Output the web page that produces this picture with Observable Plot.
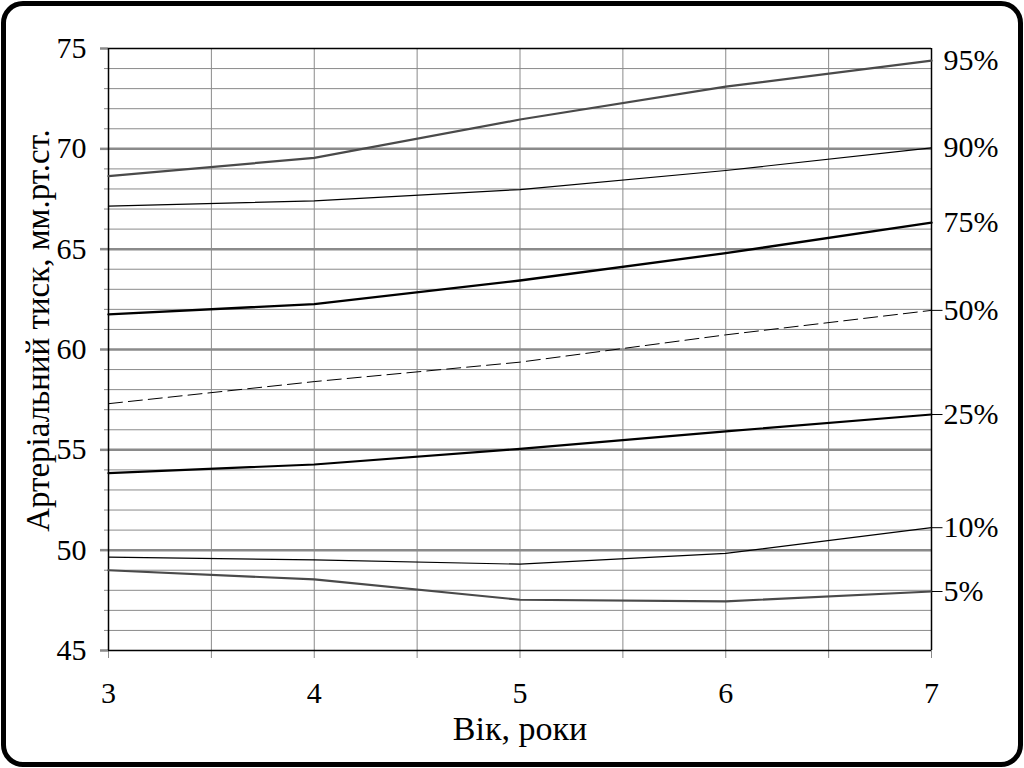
<!DOCTYPE html>
<html>
<head>
<meta charset="utf-8">
<script src="https://cdn.jsdelivr.net/npm/d3@7"></script>
<script src="https://cdn.jsdelivr.net/npm/@observablehq/plot@0.6"></script>
<style>
  html, body { margin: 0; padding: 0; background: #fff; }
  #wrap { position: relative; width: 1024px; height: 768px; overflow: hidden; }
  #wrap svg { position: absolute; left: 0; top: 0; }
  #border { position: absolute; left: 1px; top: 1px; width: 1022px; height: 766px; box-sizing: border-box; border: 5px solid #000; border-radius: 22px; pointer-events: none; }
</style>
</head>
<body>
<div id="wrap"><div id="border"></div></div>
<script>
// Data
const ages = [3, 4, 5, 6, 7];
const p95 = [68.64, 69.55, 71.46, 73.10, 74.40];
const p90 = [67.14, 67.41, 67.97, 68.92, 70.05];
const p75 = [61.75, 62.26, 63.44, 64.80, 66.32];
const p50 = [57.30, 58.40, 59.37, 60.73, 61.95];
const p25 = [53.84, 54.27, 55.05, 55.92, 56.76];
const p10 = [49.65, 49.52, 49.30, 49.84, 51.12];
const p5  = [49.00, 48.54, 47.53, 47.45, 47.94];
const percentileLabels = ["95%", "90%", "75%", "50%", "25%", "10%", "5%"];
const xTicks = [3, 4, 5, 6, 7];
const yTicks = [45, 50, 55, 60, 65, 70, 75];
const xLabel = "Вік, роки";
const yLabel = "Артеріальний тиск, мм.рт.ст.";

const seriesValues = [p95, p90, p75, p50, p25, p10, p5];
const styles = {
  "95%": {stroke: "#4a4a4a", strokeWidth: 2.2},
  "90%": {stroke: "#000", strokeWidth: 1.2},
  "75%": {stroke: "#000", strokeWidth: 2.4},
  "50%": {stroke: "#000", strokeWidth: 1, strokeDasharray: "14,6"},
  "25%": {stroke: "#000", strokeWidth: 2.2},
  "10%": {stroke: "#000", strokeWidth: 1.2},
  "5%":  {stroke: "#4a4a4a", strokeWidth: 2.2}
};
const series = percentileLabels.map((name, i) => ({
  name,
  points: ages.map((a, j) => ({age: a, value: seriesValues[i][j]}))
}));
const ends = series.map(s => ({name: s.name, age: ages[ages.length - 1], value: s.points[s.points.length - 1].value}));
const withConnector = new Set(["50%", "25%", "10%", "5%"]);

const hline = { draw(context) { context.moveTo(0, 0); context.lineTo(11, 0); } };

const minorY = d3.range(yTicks[0], yTicks[yTicks.length - 1] + 1, 1);
const minorX = d3.range(xTicks[0], xTicks[xTicks.length - 1] + 0.001, 0.5);
const font = "'Liberation Serif', 'Times New Roman', serif";

const marks = [
  Plot.ruleY(minorY, {stroke: "#8a8a8a", strokeWidth: 1}),
  Plot.ruleY(yTicks.slice(1, -1), {stroke: "#8a8a8a", strokeWidth: 2.5}),
  Plot.ruleX(minorX, {stroke: "#8a8a8a", strokeWidth: 1}),
  // minor & major ticks
  Plot.axisY(minorY, {tickSize: 4, stroke: "#8a8a8a", fill: "none", label: null}),
  Plot.axisY(yTicks, {tickSize: 8, stroke: "#8a8a8a", strokeWidth: 2.5, fill: "none", label: null}),
  Plot.axisX(minorX, {tickSize: 8, stroke: "#8a8a8a", fill: "none", label: null}),
  Plot.axisY(yTicks, {tickSize: 0, tickPadding: 22, fontSize: 30, fill: "#000", label: null, tickFormat: d => String(d)}),
  Plot.axisX(xTicks, {tickSize: 0, tickPadding: 31, fontSize: 30, fill: "#000", label: null, tickFormat: d => String(d)}),
  // plot box
  Plot.ruleX([xTicks[0], xTicks[xTicks.length - 1]], {stroke: "#000", strokeWidth: 1.5}),
  Plot.ruleY([yTicks[0], yTicks[yTicks.length - 1]], {stroke: "#000", strokeWidth: 1.5}),
  // series
  ...series.map(s => Plot.line(s.points, {x: "age", y: "value", ...styles[s.name]})),
  Plot.dot(ends.filter(d => withConnector.has(d.name)), {x: "age", y: "value", symbol: hline, stroke: "#000", strokeWidth: 1, fill: "none", r: 3}),
  Plot.text(ends, {x: "age", y: "value", text: "name", dx: 12, textAnchor: "start", fontSize: 30, fill: "#000"}),
  Plot.text([xLabel], {frameAnchor: "bottom", dy: 89, fontSize: 34, fill: "#000"}),
  Plot.text([yLabel], {frameAnchor: "left", textAnchor: "middle", dx: -70, dy: -19, rotate: -90, fontSize: 33, fill: "#000"})
];

const chart = Plot.plot({
  width: 1024,
  height: 768,
  marginLeft: 108,
  marginRight: 93,
  marginTop: 48,
  marginBottom: 118,
  style: {fontFamily: font, background: "transparent", overflow: "visible"},
  x: {domain: [xTicks[0], xTicks[xTicks.length - 1]]},
  y: {domain: [yTicks[0], yTicks[yTicks.length - 1]]},
  marks
});
document.getElementById("wrap").insertBefore(chart, document.getElementById("border"));
</script>
</body>
</html>
